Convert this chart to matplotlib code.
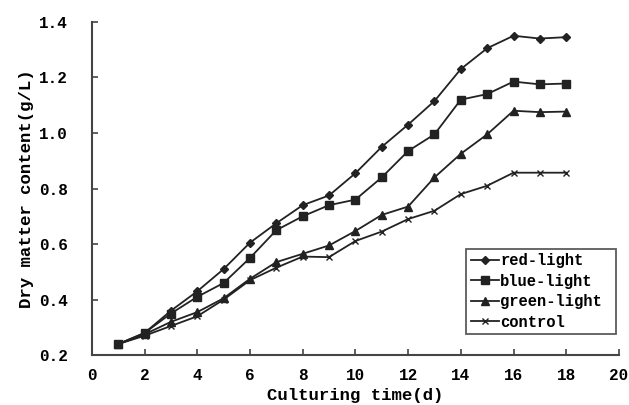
import matplotlib
matplotlib.use("Agg")
import matplotlib.pyplot as plt

days = list(range(1, 19))
red_light = [0.24, 0.28, 0.36, 0.43, 0.51, 0.605, 0.675, 0.74, 0.775, 0.855, 0.95, 1.03, 1.115, 1.23, 1.305, 1.35, 1.34, 1.345]
blue_light = [0.24, 0.28, 0.35, 0.41, 0.46, 0.55, 0.65, 0.70, 0.74, 0.76, 0.84, 0.935, 0.995, 1.12, 1.14, 1.185, 1.175, 1.178]
green_light = [0.24, 0.275, 0.32, 0.355, 0.405, 0.475, 0.535, 0.565, 0.595, 0.647, 0.705, 0.735, 0.84, 0.925, 0.995, 1.08, 1.075, 1.077]
control = [0.24, 0.27, 0.305, 0.34, 0.40, 0.47, 0.515, 0.555, 0.553, 0.611, 0.645, 0.69, 0.72, 0.78, 0.81, 0.857, 0.857, 0.857]
labels = ["red-light", "blue-light", "green-light", "control"]
xticks = [0, 2, 4, 6, 8, 10, 12, 14, 16, 18, 20]
yticks = [0.2, 0.4, 0.6, 0.8, 1.0, 1.2, 1.4]

fig = plt.figure(figsize=(6.29, 4.05), dpi=100)
ax = fig.add_axes([0.146, 0.123, 0.838, 0.823])

font = "Liberation Mono"
lc = "#222222"
series = [red_light, blue_light, green_light, control]
markers = ["D", "s", "^", "x"]
msizes = [4, 6, 6, 4]
for vals, lab, m, ms in zip(series, labels, markers, msizes):
    ax.plot(days, vals, color=lc, lw=1.3, marker=m, ms=ms, mfc=lc, mec=lc, mew=1.0, label=lab)

ax.set_xlim(0, 20)
ax.set_ylim(0.2, 1.4)
ax.set_xticks(xticks)
ax.set_yticks(yticks)
ax.set_xticklabels([str(t) for t in xticks], fontfamily=font, fontsize=11.5, fontweight="bold")
ax.set_yticklabels([f"{t:.1f}" for t in yticks], fontfamily=font, fontsize=11.5, fontweight="bold")
ax.tick_params(direction="in", length=4, width=1.2, color="#444444")
ax.tick_params(axis="x", pad=9)
ax.tick_params(axis="y", pad=17)
for s in ["top", "right"]:
    ax.spines[s].set_visible(False)
for s in ["left", "bottom"]:
    ax.spines[s].set_linewidth(1.5)
    ax.spines[s].set_color("#444444")

ax.set_xlabel("Culturing time(d)", fontfamily=font, fontsize=12.5, fontweight="bold", labelpad=4)
ax.set_ylabel("Dry matter content(g/L)", fontfamily=font, fontsize=12.5, fontweight="bold", labelpad=4)

leg = ax.legend(loc="lower left", bbox_to_anchor=(0.71, 0.063, 0.284, 0.277), mode="expand",
                prop={"family": font, "size": 11.2, "weight": "bold"},
                frameon=True, fancybox=False, handlelength=1.8, handletextpad=0.1,
                borderaxespad=0, labelspacing=0.35, borderpad=0.3)
leg.get_frame().set_edgecolor("#333333")
leg.get_frame().set_linewidth(1.3)

fig.savefig("out.png", dpi=100)
